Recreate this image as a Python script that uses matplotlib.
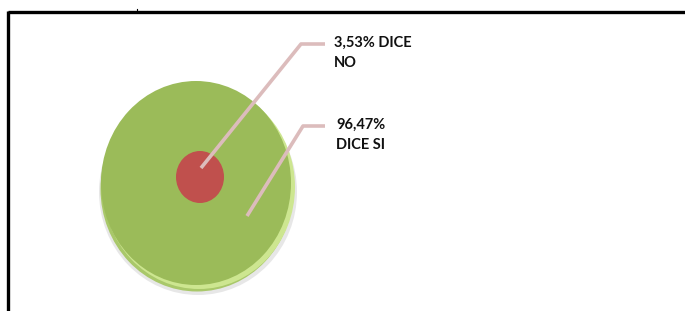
import matplotlib
matplotlib.use('Agg')
import matplotlib.pyplot as plt
from matplotlib.patches import Ellipse

# data
labels = ['DICE SI', 'DICE NO']
values = [96.47, 3.53]
label_text = ['96,47%\nDICE SI', '3,53% DICE\nNO']

green = '#9bbb59'
red = '#c0504d'
leader = '#dcbcbc'

fig = plt.figure(figsize=(6.85, 3.11), dpi=100)
ax = fig.add_axes([0, 0, 1, 1])
ax.set_xlim(0, 685)
ax.set_ylim(311, 0)
ax.axis('off')

# frame of the chart area
ax.plot([8, 685], [11.5, 11.5], color='black', lw=2.4, solid_capstyle='butt')
ax.plot([8.5, 8.5], [11, 311], color='black', lw=2.4, solid_capstyle='butt')
ax.plot([137, 137], [9, 11], color='black', lw=0.8)

# disc: shadow, rim, top face
cx, cy = 196, 183
ax.add_patch(Ellipse((cx + 2, cy + 9), 198, 206, color='#c4c4c4', alpha=0.4, lw=0))
ax.add_patch(Ellipse((cx + 1, cy + 6), 193, 205, color='#a9c86a', lw=0))
ax.add_patch(Ellipse((cx + 3, cy + 4), 192, 204, color='#cde690', lw=0))
ax.add_patch(Ellipse((cx, cy), 190, 204, color=green, lw=0))

# small slice drawn as a centred spot (area ~ share)
r_no = 25 * (values[1] / 3.53) ** 0.5
ax.add_patch(Ellipse((200, 177), 2 * r_no - 2, 2 * r_no + 2, color=red, lw=0))

# leader lines and labels
ax.plot([201, 301, 325], [168, 44, 44], color=leader, lw=2.6, solid_capstyle='butt')
ax.plot([247, 303, 325], [216, 126, 126], color=leader, lw=2.6, solid_capstyle='butt')

font = dict(family=['Lato', 'DejaVu Sans'], fontsize=10.5, fontweight='bold', color='#111111')
ax.text(334, 53, label_text[1], va='center', ha='left', linespacing=1.55, **font)
ax.text(336, 135, label_text[0], va='center', ha='left', linespacing=1.55, **font)

fig.savefig('out.png', dpi=100)
